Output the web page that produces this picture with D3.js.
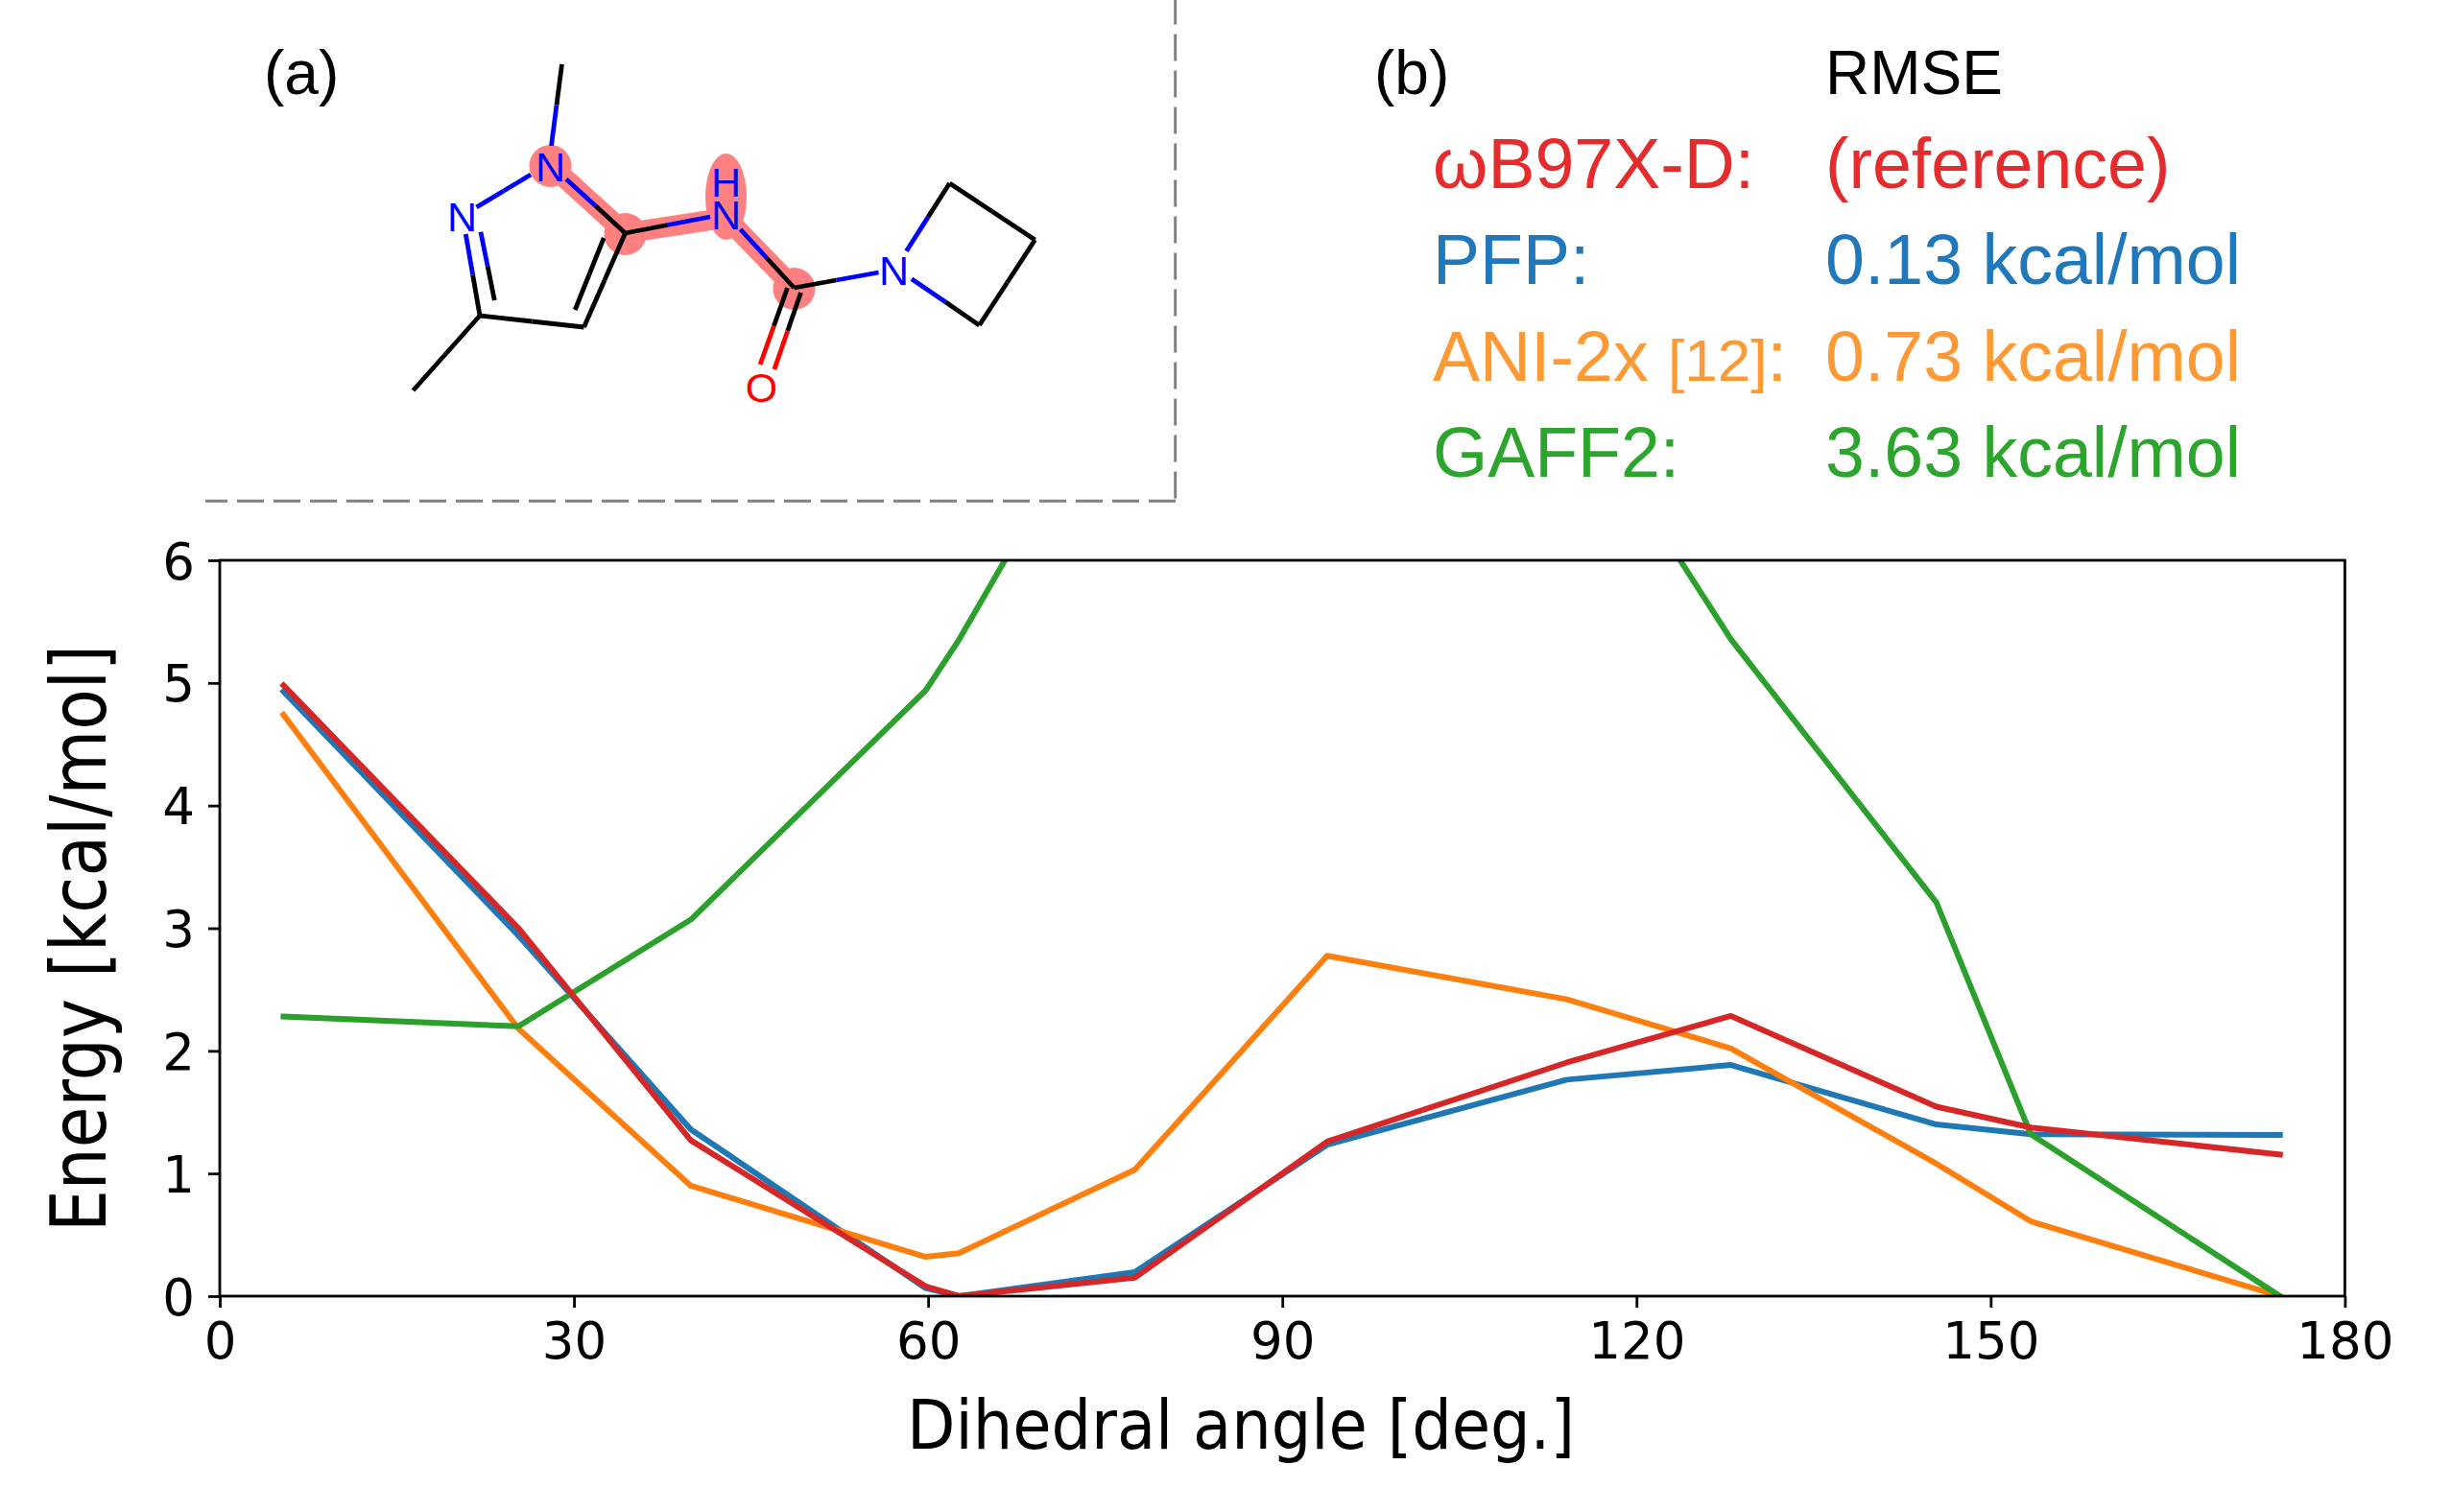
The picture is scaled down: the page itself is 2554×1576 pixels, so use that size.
<!DOCTYPE html>
<html>
<head>
<meta charset="utf-8">
<script src="https://cdn.jsdelivr.net/npm/d3@7"></script>
<style>
  html, body { margin: 0; padding: 0; background: #fff; }
  svg { display: block; }
</style>
</head>
<body>
<svg id="chart" width="2554" height="1576"></svg>
<script>
// dihedral angles of the scan
const angles = [5.4, 25.3, 39.9, 59.8, 62.6, 77.5, 93.8, 114.1, 128.0, 145.4, 153.4, 174.5];
// energies, kcal/mol (GAFF2 leaves the axis between 67 and 124 deg, those three are estimates)
const pfp = [4.93, 2.94, 1.36, 0.065, 0, 0.195, 1.235, 1.765, 1.885, 1.40, 1.32, 1.315];
const ani = [4.74, 2.18, 0.90, 0.32, 0.35, 1.03, 2.775, 2.42, 2.02, 1.08, 0.61, 0];
const gaff = [2.28, 2.20, 3.07, 4.94, 5.35, 7.83, 8.3, 7.44, 5.355, 3.21, 1.32, 0];
const wb97 = [4.98, 3.0, 1.27, 0.08, 0, 0.15, 1.26, 1.905, 2.285, 1.545, 1.375, 1.155];

const xTicks = [0, 30, 60, 90, 120, 150, 180];
const yTicks = [0, 1, 2, 3, 4, 5, 6];

const legendNames = ["ωB97X-D:", "PFP:", "ANI-2x", "GAFF2:"];
const legendValues = ["(reference)", "0.13 kcal/mol", "0.73 kcal/mol", "3.63 kcal/mol"];

// molecule drawing, page pixels: x1,y1,x2,y2,colour of first half,colour of second half
const molBonds = [
  [587, 67, 576, 152, "k", "b"],
  [554.6, 182, 498, 216, "b", "b"],
  [486.8, 244, 501.5, 329, "b", "k"],
  [502.4, 241.7, 516.8, 313, "b", "k"],
  [501.5, 329, 610, 341, "k", "k"],
  [432, 407, 501.5, 329, "k", "k"],
  [610, 341, 653, 243, "k", "k"],
  [600.7, 323, 630.7, 248, "k", "k"],
  [653, 243, 591.5, 186.7, "k", "b"],
  [653, 243, 741.5, 226, "k", "b"],
  [773, 239, 829, 300, "b", "k"],
  [829, 300, 917, 284, "k", "b"],
  [822, 300, 793.6, 380, "k", "r"],
  [836, 305, 808.4, 385, "k", "r"],
  [946, 261.7, 991, 191, "b", "k"],
  [991, 191, 1080, 250, "k", "k"],
  [1080, 250, 1022, 339, "k", "k"],
  [1022, 339, 951.4, 290.7, "k", "b"]
];
const molHighlightPath = [[575, 172], [653, 243], [758, 227], [829, 300]];
const molAtomLabels = [
  ["N", 575, 173, "b"], ["N", 483, 225, "b"], ["H", 758, 189, "b"],
  ["N", 758, 223, "b"], ["N", 933, 281, "b"], ["O", 795, 403, "r"]
];
const molColors = { k: "#000000", b: "#0000ff", r: "#ff0000" };

const svg = d3.select("#chart");
const sans = "'Liberation Sans', Arial, sans-serif";
const deja = "'DejaVu Sans', sans-serif";

const left = 229, right = 2443.4, top_ = 584, bottom = 1351;
const x = d3.scaleLinear().domain([0, 180]).range([left, right]);
const y = d3.scaleLinear().domain([0, 6]).range([bottom, top_]);

// panel (a) dashed frame
svg.append("line").attr("x1", 1225).attr("y1", 522.3).attr("x2", 214).attr("y2", 522.3)
  .attr("stroke", "#808080").attr("stroke-width", 3).attr("stroke-dasharray", "28 10");
svg.append("line").attr("x1", 1224.7).attr("y1", 519.5).attr("x2", 1224.7).attr("y2", 0)
  .attr("stroke", "#808080").attr("stroke-width", 3).attr("stroke-dasharray", "28 10");

// molecule
let mol = svg.append("g").attr("transform", "translate(-1.5,0)");
mol.append("path")
  .attr("d", d3.line()(molHighlightPath))
  .attr("fill", "none").attr("stroke", "#ff8080").attr("stroke-width", 21);
molHighlightPath.forEach(function(p, i) {
  if (i == 2) {
    mol.append("ellipse").attr("cx", p[0]).attr("cy", 205).attr("rx", 21.5).attr("ry", 45).attr("fill", "#ff8080");
  } else {
    mol.append("circle").attr("cx", p[0]).attr("cy", p[1] + 1).attr("r", 22).attr("fill", "#ff8080");
  }
});
molBonds.forEach(function(b) {
  let mx = (b[0] + b[2]) / 2, my = (b[1] + b[3]) / 2;
  mol.append("line").attr("x1", b[0]).attr("y1", b[1]).attr("x2", mx).attr("y2", my)
    .attr("stroke", molColors[b[4]]).attr("stroke-width", 4.8);
  mol.append("line").attr("x1", mx).attr("y1", my).attr("x2", b[2]).attr("y2", b[3])
    .attr("stroke", molColors[b[5]]).attr("stroke-width", 4.8);
});
molAtomLabels.forEach(function(a) {
  mol.append("text").attr("x", a[1]).attr("y", a[2] + 15.5)
    .attr("text-anchor", "middle")
    .style("font-family", sans).style("font-size", "43px")
    .attr("fill", molColors[a[3]]).text(a[0]);
});

// panel labels and RMSE table
function label(txt, px, py, size, color) {
  return svg.append("text").attr("x", px).attr("y", py)
    .style("font-family", sans).style("font-size", size + "px")
    .attr("fill", color).text(txt);
}
label("(a)", 275, 98, 64, "#000");
label("(b)", 1432, 98, 64, "#000");
label("RMSE", 1902, 98, 64, "#000");

const legendColors = ["#e52b2b", "#1f78bc", "#ff9933", "#2ca52c"];
const legendBase = [196, 296, 396.5, 496.5];
legendNames.forEach(function(n, i) {
  let t = label(n, 1493, legendBase[i], 73.5, legendColors[i]);
  if (n == "ANI-2x") {
    t.append("tspan").text(" ");
    t.append("tspan").style("font-size", "62px").text("[12]");
    t.append("tspan").text(":");
  }
  label(legendValues[i], 1902, legendBase[i], 73.5, legendColors[i]);
});

// plot
svg.append("defs").append("clipPath").attr("id", "plotClip")
  .append("rect").attr("x", left).attr("y", top_)
  .attr("width", right - left).attr("height", bottom - top_);

let line = d3.line().x(function(d, i) { return x(angles[i]); }).y(function(d) { return y(d); });
let series = [[pfp, "#1f77b4"], [ani, "#ff7f0e"], [gaff, "#2ca02c"], [wb97, "#d62728"]];
let plot = svg.append("g").attr("clip-path", "url(#plotClip)");
series.forEach(function(s) {
  plot.append("path").attr("d", line(s[0]))
    .attr("fill", "none").attr("stroke", s[1]).attr("stroke-width", 6)
    .attr("stroke-linejoin", "round").attr("stroke-linecap", "square");
});

svg.append("rect").attr("x", left).attr("y", top_)
  .attr("width", right - left).attr("height", bottom - top_)
  .attr("fill", "none").attr("stroke", "#000").attr("stroke-width", 2.8);

let xAxis = svg.append("g").attr("transform", `translate(0,${bottom})`)
  .call(d3.axisBottom(x).tickValues(xTicks).tickFormat(d3.format("d")).tickSize(12).tickSizeOuter(0).tickPadding(15));
let yAxis = svg.append("g").attr("transform", `translate(${left},0)`)
  .call(d3.axisLeft(y).tickValues(yTicks).tickFormat(d3.format("d")).tickSize(12).tickSizeOuter(0).tickPadding(14));
[xAxis, yAxis].forEach(function(a) {
  a.select(".domain").remove();
  a.selectAll(".tick line").attr("stroke", "#000").attr("stroke-width", 2.8);
  a.selectAll(".tick text").style("font-family", deja).style("font-size", "53px").attr("fill", "#000");
});
yAxis.selectAll(".tick text").attr("dy", "0.36em");

svg.append("text").attr("x", 1293).attr("y", 1510).attr("text-anchor", "middle")
  .attr("textLength", 696).attr("lengthAdjust", "spacingAndGlyphs")
  .style("font-family", deja).style("font-size", "71px").attr("fill", "#000")
  .text("Dihedral angle [deg.]");
svg.append("text").attr("transform", "translate(110,978) rotate(-90)").attr("text-anchor", "middle")
  .attr("textLength", 612).attr("lengthAdjust", "spacingAndGlyphs")
  .style("font-family", deja).style("font-size", "80px").attr("fill", "#000")
  .text("Energy [kcal/mol]");
</script>
</body>
</html>
